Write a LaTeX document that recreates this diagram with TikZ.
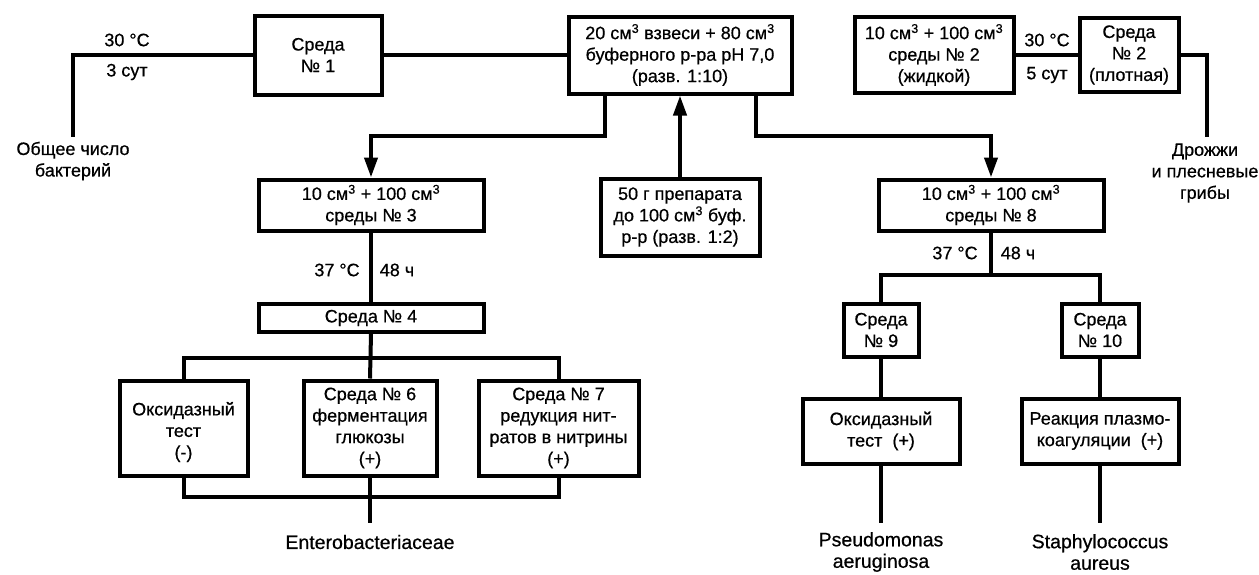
\documentclass[tikz,border=0pt]{standalone}
\usepackage{fontspec}
\setmainfont{Liberation Sans}[FakeBold=0.6]
\usetikzlibrary{arrows.meta}
\begin{document}
\begin{tikzpicture}[x=1pt,y=1pt,
  every node/.style={font=\fontsize{18}{21.5}\selectfont, align=center, inner sep=0pt},
  latin/.style={font=\fontsize{19.5}{21.5}\selectfont},
  box/.style 2 args={draw, line width=4pt, minimum width=#1, minimum height=#2},
  conn/.style={line width=4pt},
  arr/.style={line width=4pt, -{Triangle[length=20pt,width=13pt]}}]
\useasboundingbox (0,0) rectangle (1259,-574);
\fill[white] (0,0) rectangle (1259,-574);

% boxes
\node[box={127}{79}] (s1) at (318,-55) {Среда\\№ 1};
\node[box={223}{77}] (big) at (680,-55) {20 см\textsuperscript{3} взвеси + 80 см\textsuperscript{3}\\буферного р-ра pH 7,0\\(разв. 1:10)};
\node[box={159}{76}] (m2) at (934,-55) {10 см\textsuperscript{3} + 100 см\textsuperscript{3}\\среды № 2\\(жидкой)};
\node[box={99}{74}] (s2) at (1129,-55) {Среда\\№ 2\\(плотная)};
\node[box={225}{51}] (b3) at (371,-205) {10 см\textsuperscript{3} + 100 см\textsuperscript{3}\\среды № 3};
\node[box={225}{28}] (s4) at (371,-318) {Среда № 4};
\node[box={159}{77}] (prep) at (680,-217) {50 г препарата\\до 100 см\textsuperscript{3} буф.\\р-р (разв. 1:2)};
\node[box={225}{51}] (b8) at (991,-205) {10 см\textsuperscript{3} + 100 см\textsuperscript{3}\\среды № 8};
\node[box={75}{53}] (s9) at (881,-330) {Среда\\№ 9};
\node[box={77}{53}] (s10) at (1100,-330) {Среда\\№ 10};
\node[box={157}{65}] (ox2) at (881,-431) {Оксидазный\\тест~~(+)};
\node[box={157}{65}] (plaz) at (1100,-431) {Реакция плазмо-\\коагуляции~~(+)};
\node[box={128}{95}] (ox1) at (183.5,-428) {\mbox{}\\Оксидазный\\тест\\(-)};
\node[box={133}{95}] (s6) at (370,-428) {Среда № 6\\ферментация\\глюкозы\\(+)};
\node[box={160}{95}] (s7) at (558.5,-428) {Среда № 7\\редукция нит-\\ратов в нитрины\\(+)};

% labels
\node (t1) at (127,-40) {30 °C};
\node (d1) at (127,-72) {3 сут};
\node (t2) at (1047,-40) {30 °C};
\node (d2) at (1047,-75) {5 сут};
\node (t3) at (337,-270) {37 °C};
\node (h3) at (397,-270) {48 ч};
\node (t8) at (955,-253) {37 °C};
\node (h8) at (1018,-253) {48 ч};
\node (gen) at (73,-161) {Общее число\\бактерий};
\node (yeast) at (1205,-173) {Дрожжи\\и плесневые\\грибы};
\node[latin] (ent) at (370,-542) {Enterobacteriaceae};
\node[latin] (pse) at (881,-552) {Pseudomonas\\aeruginosa};
\node[latin] (sta) at (1100,-552) {Staphylococcus\\aureus};

% coordinates
\coordinate (g2) at (73,-137);
\coordinate (y2) at (1207,-137);
\coordinate (jl) at (605,-136);
\coordinate (jr) at (756,-136);
\coordinate (j4) at (370,-358);
\coordinate (j5) at (370,-497);
\coordinate (e1) at (370,-523);
\coordinate (j8) at (991,-275);
\coordinate (p1) at (881,-523);
\coordinate (p2) at (1100,-523);

% connectors
\draw[conn] (s1.west) -| (g2);
\draw[conn] (s1.east) -- (big.west);
\draw[conn] (m2.east) -- (s2.west);
\draw[conn] (s2.east) -| (y2);
\draw[arr] (big.south -| jl) -- (jl) -| (b3.north);
\draw[arr] (big.south -| jr) -- (jr) -| (b8.north);
\draw[arr] (prep.north) -- (big.south);
\draw[conn] (b3.south) -- (s4.north);
\draw[conn] (s4.south) -- (s6.north);
\draw[conn] (ox1.north) |- (j4) -| (s7.north);
\draw[conn] (ox1.south) |- (j5) -| (s7.south);
\draw[conn] (s6.south) -- (e1);
\draw[conn] (b8.south) -- (j8);
\draw[conn] (s9.north) |- (j8) -| (s10.north);
\draw[conn] (s9.south) -- (ox2.north);
\draw[conn] (s10.south) -- (plaz.north);
\draw[conn] (ox2.south) -- (p1);
\draw[conn] (plaz.south) -- (p2);
\end{tikzpicture}
\end{document}
